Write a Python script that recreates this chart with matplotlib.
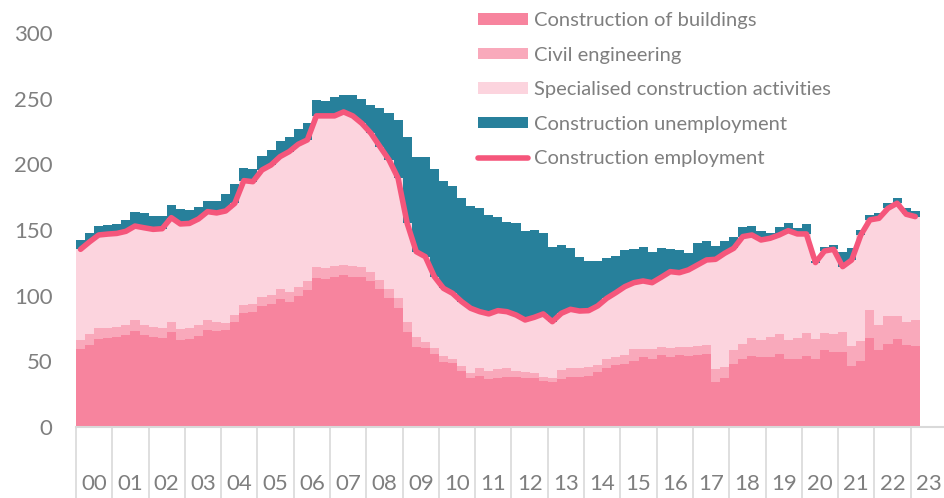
import numpy as np
import matplotlib.pyplot as plt
from matplotlib.patches import Patch
from matplotlib.lines import Line2D

# quarterly values, 2000 Q1 .. 2023 Q1 (thousands)
years = ['%02d' % y for y in range(0, 24)]

buildings = [59.2, 62.4, 67.0, 68.0, 68.5, 70.0, 73.1, 70.0, 68.5, 67.7, 72.0, 66.0, 67.0, 69.5, 74.0, 73.0,
             73.9, 80.0, 86.6, 87.8, 92.2, 93.7, 97.7, 95.4, 99.8, 104.3, 113.5, 112.7, 114.5, 115.8, 114.5, 114.5,
             111.2, 104.9, 98.0, 90.9, 72.6, 61.2, 59.9, 55.6, 49.8, 48.5, 42.7, 37.6, 38.8, 36.3, 37.6, 38.3,
             37.8, 37.1, 37.1, 35.3, 34.5, 36.3, 37.8, 38.3, 38.8, 41.9, 44.7, 47.2, 47.7, 50.5, 53.1, 51.6,
             54.8, 53.6, 54.8, 54.1, 54.8, 55.6, 34.5, 37.1, 48.0, 51.6, 54.3, 53.1, 53.6, 55.6, 51.8, 51.8,
             54.1, 51.6, 58.6, 57.4, 57.4, 46.7, 50.5, 68.0, 58.6, 63.2, 67.0, 62.5, 61.7]

civil = [6.8, 8.2, 8.2, 7.2, 7.5, 7.5, 8.4, 7.5, 7.5, 7.5, 8.0, 8.4, 8.5, 8.0, 7.5, 7.2,
         5.1, 5.3, 6.1, 5.6, 6.8, 6.8, 7.4, 7.4, 6.8, 6.9, 8.1, 8.1, 8.1, 7.6, 8.1, 7.1,
         6.6, 7.1, 6.9, 7.1, 7.1, 7.1, 5.1, 4.8, 4.5, 3.5, 3.8, 3.8, 5.9, 6.6, 6.3, 6.4,
         5.1, 4.5, 3.8, 3.0, 2.6, 7.1, 6.9, 6.4, 6.6, 5.3, 6.9, 5.9, 7.1, 8.7, 6.0, 7.5,
         5.9, 6.3, 5.9, 7.1, 6.9, 6.9, 9.7, 8.8, 10.6, 11.6, 13.7, 13.2, 14.7, 15.2, 14.5, 15.8,
         17.2, 15.4, 12.7, 13.2, 14.7, 15.0, 15.0, 21.1, 19.1, 21.3, 17.5, 17.5, 19.8]

specialised = [69.3, 70.4, 71.0, 71.7, 71.4, 71.5, 71.5, 74.2, 74.5, 75.8, 79.4, 80.2, 79.5, 80.9, 82.5, 82.8,
               85.5, 85.0, 94.9, 93.4, 96.7, 99.0, 100.8, 106.9, 108.7, 107.4, 115.3, 116.1, 114.3, 116.5, 114.3, 109.6,
               105.9, 101.5, 98.5, 91.4, 75.4, 65.2, 64.7, 54.1, 51.3, 49.8, 49.0, 49.0, 43.1, 43.2, 44.7, 43.1,
               42.4, 39.9, 42.6, 47.8, 43.1, 43.2, 44.9, 43.6, 43.2, 45.0, 46.4, 49.2, 52.1, 50.7, 52.1, 50.8,
               53.3, 58.4, 56.8, 58.4, 61.7, 64.7, 83.5, 86.4, 77.5, 81.8, 78.2, 76.1, 75.4, 75.4, 83.2, 79.4,
               75.7, 58.2, 62.7, 64.7, 50.0, 65.5, 80.7, 68.6, 81.2, 82.0, 85.9, 82.0, 78.7]

unemployment = [6.9, 7.0, 6.8, 6.7, 7.5, 8.4, 10.5, 11.0, 10.5, 9.7, 9.6, 11.2, 10.0, 8.9, 8.1, 8.9,
                12.7, 14.8, 9.4, 9.5, 10.9, 11.4, 11.6, 10.8, 11.9, 12.6, 12.1, 11.4, 14.2, 13.2, 16.1, 18.6,
                21.3, 29.2, 36.0, 44.4, 65.5, 71.9, 75.7, 82.0, 81.8, 81.7, 78.7, 77.9, 78.7, 75.1, 71.6, 68.1,
                70.3, 67.8, 66.5, 61.4, 57.1, 51.8, 47.0, 40.9, 37.8, 34.5, 30.7, 27.7, 27.7, 25.4, 26.1, 23.6,
                22.1, 17.3, 17.3, 12.7, 17.0, 14.5, 10.2, 9.6, 8.9, 7.6, 6.9, 6.9, 4.3, 5.9, 6.1, 4.3,
                7.4, 1.0, 3.3, 3.3, 10.9, 8.9, 3.8, 3.8, 3.8, 4.4, 3.8, 4.5, 4.6]

c_build = '#f7849e'
c_civil = '#f9a9bb'
c_spec = '#fcd4de'
c_unemp = '#27809b'
c_line = '#f5567b'
grey = '#7f7f7f'

plt.rcParams['font.family'] = ['Lato', 'DejaVu Sans']

fig = plt.figure(figsize=(9.44, 4.98), dpi=100)
ax = fig.add_axes([76 / 944, 71 / 498, 871 / 944, 394 / 498])

b = np.array(buildings)
c = np.array(civil)
s = np.array(specialised)
u = np.array(unemployment)
edges = np.arange(len(b) + 1)

# stacked quarterly columns drawn as filled steps (no seams)
ax.stairs(b, edges, baseline=0, fill=True, color=c_build, lw=0)
ax.stairs(b + c, edges, baseline=b, fill=True, color=c_civil, lw=0)
ax.stairs(b + c + s, edges, baseline=b + c, fill=True, color=c_spec, lw=0)
ax.stairs(b + c + s + u, edges, baseline=b + c + s, fill=True, color=c_unemp, lw=0)

employment = b + c + s
ax.plot(edges[:-1] + 0.5, employment, color=c_line, lw=4,
        solid_capstyle='round', solid_joinstyle='round')

ax.set_xlim(0, 96)
ax.set_ylim(0, 300)

for side in ['top', 'right', 'left']:
    ax.spines[side].set_visible(False)
ax.spines['bottom'].set_color('#d9d9d9')
ax.spines['bottom'].set_linewidth(1.5)

ax.set_xticks(np.arange(0, 97, 4))
ax.set_xticklabels([])
ax.tick_params(axis='x', which='major', length=52, width=1.2, color='#d9d9d9', direction='out')
ax.set_xticks(np.arange(2, 96, 4), minor=True)
ax.set_xticklabels(years, minor=True)
ax.tick_params(axis='x', which='minor', length=0, pad=34, labelsize=16, labelcolor=grey)

ax.set_yticks(np.arange(0, 301, 50))
ax.tick_params(axis='y', length=0, pad=17, labelsize=16, labelcolor=grey)

handles = [Patch(color=c_build, lw=0), Patch(color=c_civil, lw=0), Patch(color=c_spec, lw=0),
           Patch(color=c_unemp, lw=0), Line2D([], [], color=c_line, lw=4, solid_capstyle='round')]
labels = ['Construction of buildings', 'Civil engineering', 'Specialised construction activities',
          'Construction unemployment', 'Construction employment']
fig.legend(handles, labels, loc='upper left', bbox_to_anchor=(478 / 944, 1 - 12 / 498),
           frameon=False, fontsize=14.5, labelcolor=grey, handlelength=2.5, handleheight=0.5,
           handletextpad=0.3, labelspacing=0.87, borderpad=0, borderaxespad=0)

fig.savefig('out.png', dpi=100)
